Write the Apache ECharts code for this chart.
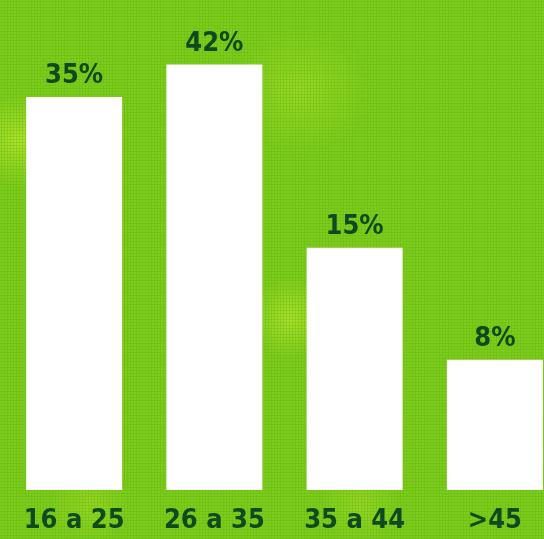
<!DOCTYPE html>
<html>
<head>
<meta charset="utf-8">
<script src="https://cdn.jsdelivr.net/npm/echarts@6/dist/echarts.min.js"></script>
<style>
html,body{margin:0;padding:0;}
#wrap{position:relative;width:544px;height:539px;overflow:hidden;
  background:
    radial-gradient(ellipse 55px 45px at 20px 140px, rgba(205,240,50,0.6), rgba(205,240,50,0) 100%),
    radial-gradient(ellipse 70px 60px at 300px 90px, rgba(180,230,40,0.45), rgba(180,230,40,0) 100%),
    radial-gradient(ellipse 40px 40px at 290px 318px, rgba(200,238,50,0.6), rgba(200,238,50,0) 100%),
    radial-gradient(ellipse 40px 40px at 90px 505px, rgba(180,230,40,0.4), rgba(180,230,40,0) 100%),
    radial-gradient(ellipse 40px 40px at 360px 505px, rgba(180,230,40,0.4), rgba(180,230,40,0) 100%),
    #7dcb1d;}
#dots{position:absolute;left:0;top:0;width:544px;height:539px;
  background-image: radial-gradient(circle at 1.5px 1.5px, rgba(95,178,12,0.45) 0.8px, rgba(95,178,12,0) 1.4px);
  background-size:3px 3px;}
#chart{position:absolute;left:0;top:0;width:580px;height:539px;}
</style>
</head>
<body>
<div id="wrap"><div id="dots"></div><div id="chart"></div></div>
<script>
var categories = ['16 a 25', '26 a 35', '35 a 44', '>45'];
var values = [35, 42, 15, 8];

var font = "'DejaVu Sans Condensed', 'Liberation Sans Narrow', sans-serif";
var textColor = '#0e4a1e';

var chart = echarts.init(document.getElementById('chart'), null, {renderer: 'canvas'});
chart.setOption({
  backgroundColor: 'transparent',
  animation: false,
  grid: {left: 4, width: 561, top: 40, bottom: 49, containLabel: false, outerBoundsMode: 'none'},
  xAxis: {
    type: 'category',
    data: categories,
    axisLine: {show: false},
    axisTick: {show: false},
    axisLabel: {
      interval: 0,
      margin: 17,
      color: textColor,
      fontFamily: font,
      fontWeight: 'bold',
      fontSize: 27
    }
  },
  yAxis: {
    type: 'log',
    min: 3.85,
    max: 48.2,
    show: false,
    splitLine: {show: false}
  },
  series: [{
    type: 'bar',
    data: values,
    barWidth: 96,
    clip: true,
    itemStyle: {color: '#ffffff'},
    label: {
      show: true,
      position: 'top',
      distance: 7,
      formatter: '{c}%',
      color: textColor,
      fontFamily: font,
      fontWeight: 'bold',
      fontSize: 27
    }
  }]
});
</script>
</body>
</html>
